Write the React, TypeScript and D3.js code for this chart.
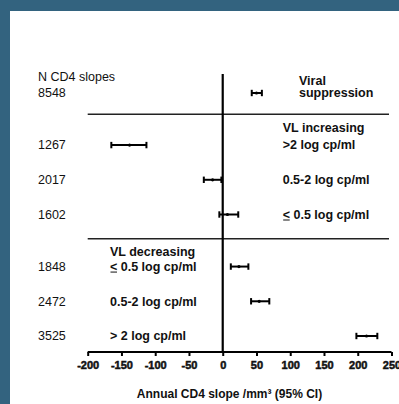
import { useEffect, useRef } from 'react';
import * as d3 from 'd3';

// rows of the forest plot
const nSlopes = ['8548', '1267', '2017', '1602', '1848', '2472', '3525'];
const slopeMid = [50, -138, -15, 7, 24, 54, 213];
const slopeLow = [43, -165, -28, -5, 12, 42, 198];
const slopeHigh = [58, -113, -2, 23, 38, 69, 229];
const rightLabels = ['', '>2 log cp/ml', '0.5-2 log cp/ml', '\u2264 0.5 log cp/ml', '', '', ''];
const leftLabels = ['', '', '', '', '\u2264 0.5 log cp/ml', '0.5-2 log cp/ml', '> 2 log cp/ml'];
const xTicks = [-200, -150, -100, -50, 0, 50, 100, 150, 200, 250];

const W = 399;
const H = 404;

export default function App() {
  const svgRef = useRef<SVGSVGElement>(null);

  useEffect(() => {
    const svg = d3.select(svgRef.current);
    svg.selectAll('*').remove();

    // slide frame
    svg.append('rect').attr('width', W).attr('height', H).attr('fill', '#33637f');
    svg.append('rect').attr('x', 10).attr('y', 11).attr('width', W - 10).attr('height', H - 11).attr('fill', '#fff');

    const x = d3.scaleLinear().domain([-200, 250]).range([87.7, 391.5]);
    // vertical slot layout: rows sit on slots, headers/gaps in between
    const slot = d3.scaleLinear().domain([0, 14]).range([93, 336]);
    const rowSlot = [0, 3, 5, 7, 10, 12, 14];
    const axisY = 352;

    const font = 'Arial, "Liberation Sans", sans-serif';
    const txt = (s: string, tx: number, ty: number, bold = false, size = 12.5) =>
      svg.append('text')
        .attr('x', tx).attr('y', ty)
        .attr('dy', '0.35em')
        .attr('font-family', font)
        .attr('font-size', size)
        .attr('font-weight', bold ? 'bold' : 'normal')
        .attr('fill', '#111')
        .text(s);

    // separators
    [slot(1.23), slot(8.4)].forEach(sy => {
      svg.append('line')
        .attr('x1', x(-200)).attr('x2', 389)
        .attr('y1', sy).attr('y2', sy)
        .attr('stroke', '#222').attr('stroke-width', 1.5);
    });

    // zero line
    svg.append('line')
      .attr('x1', x(0)).attr('x2', x(0))
      .attr('y1', 74).attr('y2', axisY)
      .attr('stroke', '#000').attr('stroke-width', 2.2);

    // x axis
    const axis = svg.append('g')
      .attr('transform', `translate(0,${axisY})`)
      .call(d3.axisBottom(x).tickValues(xTicks).tickSize(4).tickPadding(5).tickFormat(d => String(d)));
    axis.select('.domain').attr('stroke', '#000').attr('stroke-width', 2).attr('d', `M${x(-200)},0H${x(250)}`);
    axis.selectAll('.tick line').attr('stroke', '#000').attr('stroke-width', 2);
    axis.selectAll('.tick text')
      .attr('font-family', font)
      .attr('font-size', 11)
      .attr('font-weight', 'bold')
      .attr('fill', '#111')
      .attr('stroke', '#111')
      .attr('stroke-width', 0.5);

    // error bars
    nSlopes.forEach((n, i) => {
      const y = slot(rowSlot[i]);
      const g = svg.append('g');
      g.append('line')
        .attr('x1', x(slopeLow[i])).attr('x2', x(slopeHigh[i]))
        .attr('y1', y).attr('y2', y)
        .attr('stroke', '#000').attr('stroke-width', 2);
      [slopeLow[i], slopeHigh[i]].forEach(v => {
        g.append('line')
          .attr('x1', x(v)).attr('x2', x(v))
          .attr('y1', y - 3.2).attr('y2', y + 3.2)
          .attr('stroke', '#000').attr('stroke-width', 2);
      });
      g.append('circle').attr('cx', x(slopeMid[i])).attr('cy', y).attr('r', 1.6).attr('fill', '#000');

      txt(n, 38, y);
      if (rightLabels[i]) txt(rightLabels[i], 282.7, y, true);
      if (leftLabels[i]) txt(leftLabels[i], 110, y, true);
    });

    // headers
    txt('N CD4 slopes', 38, slot(-0.94));
    txt('Viral', 299, slot(-0.72), true);
    txt('suppression', 299, slot(0), true);
    txt('VL increasing', 282.7, slot(2), true);
    txt('VL decreasing', 110, slot(9.15), true);

    // underline the \u2264 signs
    svg.selectAll('text').filter(function () {
      return (d3.select(this).text() || '').startsWith('\u2264');
    }).each(function () {
      const t = d3.select(this);
      const tx = +t.attr('x');
      const ty = +t.attr('y');
      t.text(t.text().replace('\u2264', '<'));
      svg.append('line')
        .attr('x1', tx + 0.5).attr('x2', tx + 7)
        .attr('y1', ty + 5.5).attr('y2', ty + 5.5)
        .attr('stroke', '#111').attr('stroke-width', 1);
    });

    // axis title
    svg.append('text')
      .attr('x', 229.5).attr('y', 394)
      .attr('dy', '0.35em')
      .attr('text-anchor', 'middle')
      .attr('font-family', font)
      .attr('font-size', 12)
      .attr('font-weight', 'bold')
      .attr('fill', '#111')
      .text('Annual CD4 slope /mm\u00b3 (95% CI)');
  }, []);

  return (
    <div style={{ position: 'fixed', left: 0, top: 0, width: W, height: H }}>
      <svg ref={svgRef} width={W} height={H} style={{ display: 'block' }} />
    </div>
  );
}
